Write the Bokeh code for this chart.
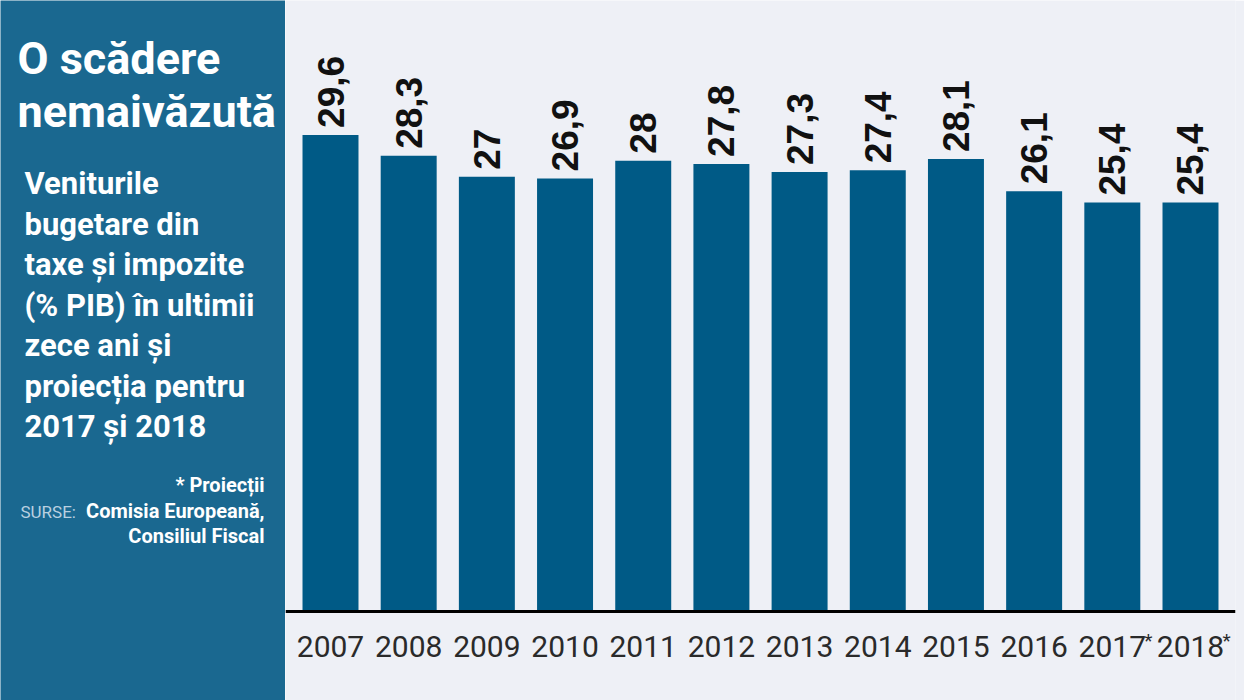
import math
from bokeh.plotting import figure
from bokeh.models import ColumnDataSource, Range1d, FactorRange, Span
from bokeh.layouts import row
from bokeh.core.properties import value
from bokeh.embed import file_html
from bokeh.resources import INLINE

# ---- data ----
years = ["2007", "2008", "2009", "2010", "2011", "2012", "2013", "2014", "2015", "2016", "2017", "2018"]
values = [29.6, 28.3, 27.0, 26.9, 28.0, 27.8, 27.3, 27.4, 28.1, 26.1, 25.4, 25.4]
value_labels = ["29,6", "28,3", "27", "26,9", "28", "27,8", "27,3", "27,4", "28,1", "26,1", "25,4", "25,4"]
projected_years = ["2017", "2018"]

title_lines = ["O scădere", "nemaivăzută"]
subtitle_lines = ["Veniturile", "bugetare din", "taxe și impozite", "(% PIB) în ultimii",
                  "zece ani și", "proiecția pentru", "2017 și 2018"]
note_text = "* Proiecții"
source_label = "SURSE:"
source_lines = ["Comisia Europeană,", "Consiliul Fiscal"]

PANEL = "#1a6890"
BAR = "#005a86"
BG = "#eef0f6"
FONT = "Roboto"

W, H = 1244, 700
W_L = 285
W_R = W - W_L

# ---- left panel ----
left = figure(width=W_L, height=H, x_range=Range1d(0, W_L), y_range=Range1d(H, 0),
              output_backend="svg", toolbar_location=None, min_border=0)
left.axis.visible = False
left.grid.visible = False
left.outline_line_color = None
left.background_fill_color = PANEL
left.border_fill_color = PANEL

left.text(x=[17, 17], y=[58, 111], text=title_lines, text_font=value(FONT),
          text_font_style="bold", text_font_size="45px", text_color="white",
          text_baseline="alphabetic", text_align="left")
sub_y = [183 + 40.5 * i for i in range(len(subtitle_lines))]
left.text(x=[24] * len(subtitle_lines), y=sub_y, text=subtitle_lines, text_font=value(FONT),
          text_font_style="bold", text_font_size="31px", text_color="white",
          text_baseline="alphabetic", text_align="left")
left.text(x=[264], y=[484], text=[note_text], text_font=value(FONT), text_font_style="bold",
          text_font_size="20px", text_color="white", text_baseline="alphabetic", text_align="right")
left.text(x=[264, 264], y=[510, 535], text=source_lines, text_font=value(FONT), text_font_style="bold",
          text_font_size="20px", text_color="white", text_baseline="alphabetic", text_align="right")
left.text(x=[20], y=[511], text=[source_label], text_font=value(FONT),
          text_font_size="17px", text_color="#b9d0e0", text_baseline="alphabetic", text_align="left")

# ---- right chart ----
PX_PER_UNIT = 16.1
BASE_Y = 611
src = ColumnDataSource(dict(year=years, val=values, lab=value_labels, zero=[0] * len(years)))
star_src = ColumnDataSource(dict(year=projected_years, zero=[0] * len(projected_years),
                                 t=["*"] * len(projected_years)))
right = figure(width=W_R, height=H, x_range=FactorRange(*years, range_padding=0.0126),
               y_range=Range1d(-(H - BASE_Y) / PX_PER_UNIT, BASE_Y / PX_PER_UNIT),
               output_backend="svg", toolbar_location=None,
               min_border_left=0, min_border_right=9, min_border_top=0, min_border_bottom=0)
right.background_fill_color = BG
right.border_fill_color = BG
right.outline_line_color = None
right.grid.visible = False
right.axis.visible = False

right.vbar(x="year", top="val", width=0.716, source=src, fill_color=BAR, line_color=None)
right.text(x="year", y="val", text="lab", source=src, angle=math.pi / 2, text_align="left",
           text_baseline="middle", y_offset=-7, text_font=value("Liberation Sans"),
           text_font_style="bold", text_font_size="37px", text_color="#111111")

# baseline
right.add_layout(Span(location=0, dimension="width", line_color="black", line_width=3))

# category labels under the baseline
right.text(x="year", y="zero", text="year", source=src, y_offset=24, text_align="center",
           text_baseline="top", text_font=value(FONT), text_font_size="30px", text_color="#2a2a2a")
right.text(x="year", y="zero", text="t", source=star_src, x_offset=32, y_offset=17,
           text_align="left", text_baseline="top", text_font=value(FONT),
           text_font_size="19px", text_color="#2a2a2a")

layout = row(left, right, spacing=0)
open("out.html", "w").write(file_html(layout, INLINE))
